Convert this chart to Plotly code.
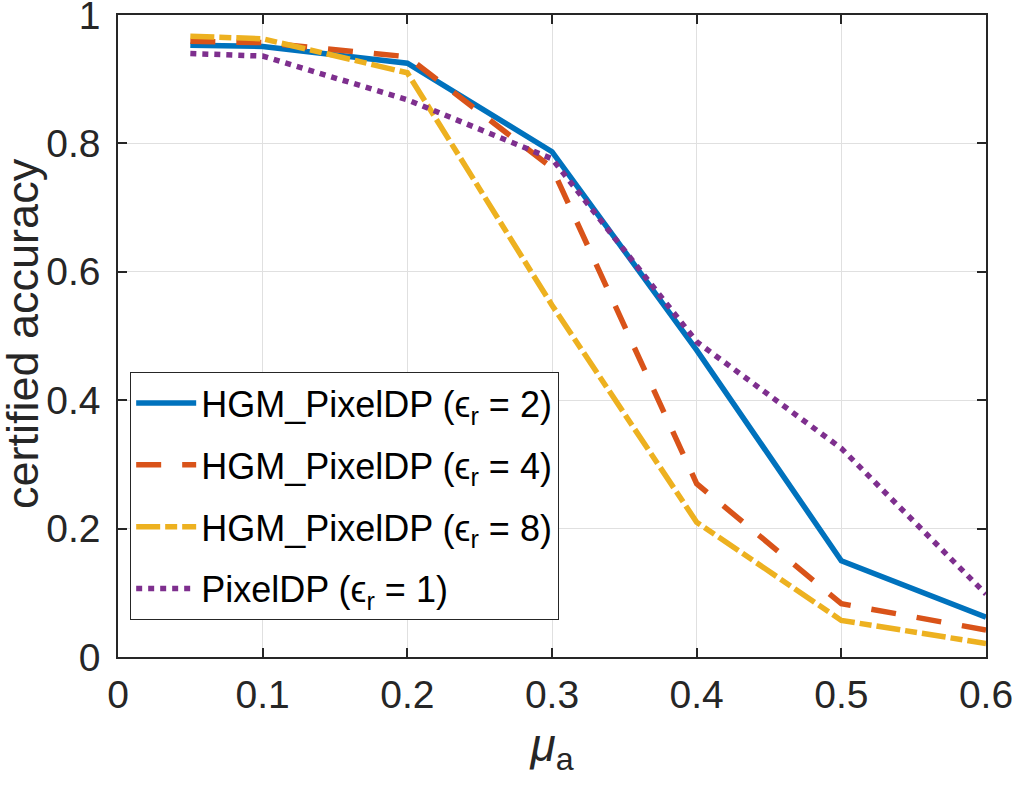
import plotly.graph_objects as go

mu_a = [0.05, 0.1, 0.2, 0.3, 0.4, 0.5, 0.6]
hgm_eps2 = [0.953, 0.951, 0.925, 0.787, 0.478, 0.150, 0.062]
hgm_eps4 = [0.959, 0.957, 0.935, 0.762, 0.270, 0.083, 0.042]
hgm_eps8 = [0.967, 0.963, 0.910, 0.548, 0.210, 0.057, 0.021]
pixeldp_eps1 = [0.940, 0.936, 0.868, 0.776, 0.491, 0.325, 0.098]

names = [
    "HGM_PixelDP (ϵ<sub>r</sub> = 2)",
    "HGM_PixelDP (ϵ<sub>r</sub> = 4)",
    "HGM_PixelDP (ϵ<sub>r</sub> = 8)",
    "PixelDP (ϵ<sub>r</sub> = 1)",
]
series = [hgm_eps2, hgm_eps4, hgm_eps8, pixeldp_eps1]
colors = ["#0072BD", "#D95319", "#EDB120", "#7E2F8E"]
dashes = ["solid", "25px,21px", "24px,5px,12px,5px", "6px,6px"]

FONT = "Liberation Sans, Arial, Helvetica, sans-serif"

fig = go.Figure()
for i, (n, s, c, d) in enumerate(zip(names, series, colors, dashes)):
    fig.add_trace(go.Scatter(
        x=mu_a, y=s, mode="lines", name=n, legendgroup=f"g{i}",
        line=dict(color=c, width=5.5, dash=d),
    ))

axis_common = dict(
    showline=True, linecolor="#262626", linewidth=1.5, mirror="ticks",
    ticks="inside", ticklen=9, tickwidth=1.5, tickcolor="#262626",
    showgrid=True, gridcolor="#e0e0e0", gridwidth=1, zeroline=False,
    tickfont=dict(family=FONT, size=39, color="#262626"),
    ticklabeloverflow="allow", automargin=False,
)

fig.update_layout(
    width=1012, height=785,
    margin=dict(l=118, r=26, t=15, b=128),
    paper_bgcolor="white", plot_bgcolor="white",
    font=dict(family=FONT, color="#262626"),
    xaxis=dict(
        range=[0, 0.6], tickvals=[0, 0.1, 0.2, 0.3, 0.4, 0.5, 0.6],
        ticktext=["0", "0.1", "0.2", "0.3", "0.4", "0.5", "0.6"],
        ticklabelstandoff=2,
        title=dict(text="<i>μ</i><sub>a</sub>", font=dict(family=FONT, size=46, color="#262626"), standoff=14),
        **axis_common,
    ),
    yaxis=dict(
        range=[0, 1], tickvals=[0, 0.2, 0.4, 0.6, 0.8, 1],
        ticktext=["0", "0.2", "0.4", "0.6", "0.8", "1"],
        ticklabelstandoff=8,
        **axis_common,
    ),
    legend=dict(
        x=0.0138, y=0.444, xanchor="left", yanchor="top",
        bgcolor="white", bordercolor="#262626", borderwidth=1.2,
        font=dict(family=FONT, size=36, color="black"),
        tracegroupgap=12, itemwidth=60,
    ),
    showlegend=True,
    annotations=[dict(
        text="certified accuracy", textangle=-90, showarrow=False,
        xref="paper", yref="paper", x=(22 - 118) / 868, y=(657 - 334) / 642,
        xanchor="center", yanchor="middle",
        font=dict(family=FONT, size=45, color="#262626"),
    )],
)

fig.write_html("out.html")
